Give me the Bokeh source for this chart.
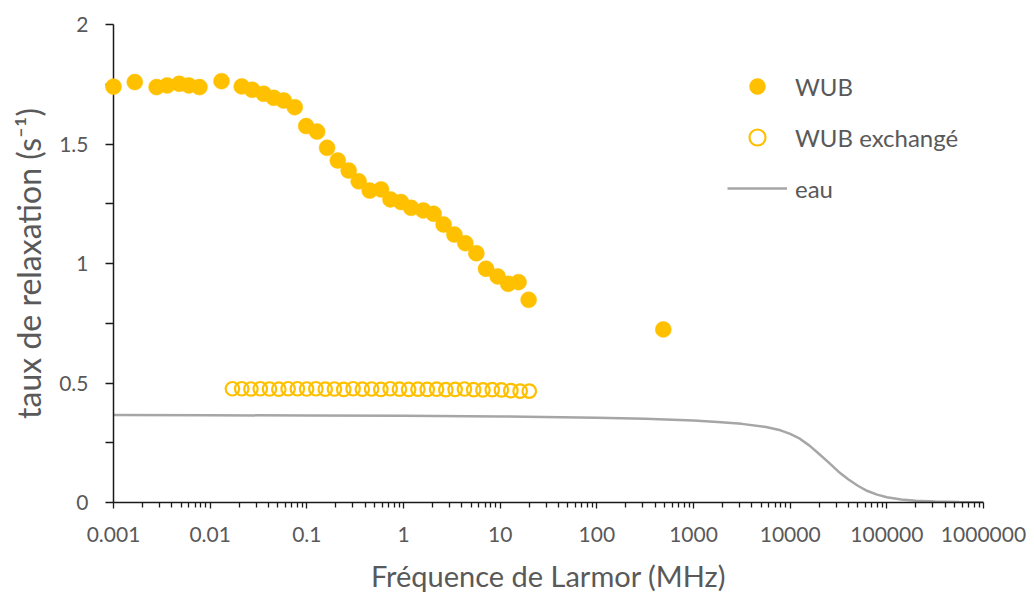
from bokeh.plotting import figure
from bokeh.models import (Range1d, FixedTicker, CustomJSTickFormatter, Legend, LegendItem)
from bokeh.embed import file_html
from bokeh.resources import INLINE

# ---- data ----
wub_x = [0.001, 0.00166, 0.00279, 0.00359, 0.00478, 0.00601, 0.00775, 0.0131,
         0.0212, 0.0272, 0.0358, 0.0455, 0.0577, 0.075, 0.0984, 0.1277, 0.162,
         0.209, 0.271, 0.344, 0.447, 0.586, 0.733, 0.944, 1.2, 1.60, 2.05, 2.6,
         3.36, 4.36, 5.67, 7.14, 9.42, 12.1, 15.5, 19.7, 487]
wub_y = [1.740, 1.759, 1.738, 1.745, 1.752, 1.745, 1.738, 1.763,
         1.741, 1.727, 1.710, 1.693, 1.682, 1.654, 1.575, 1.552, 1.484,
         1.431, 1.389, 1.344, 1.305, 1.310, 1.268, 1.257, 1.233, 1.222, 1.208, 1.163,
         1.121, 1.085, 1.043, 0.978, 0.946, 0.915, 0.922, 0.848, 0.724]

exch_x = [0.0170, 0.0212, 0.0264, 0.0330, 0.0411, 0.0513, 0.0640, 0.0798, 0.0995,
          0.124, 0.155, 0.193, 0.241, 0.301, 0.375, 0.468, 0.583, 0.728, 0.908,
          1.13, 1.41, 1.76, 2.20, 2.74, 3.42, 4.27, 5.32, 6.64, 8.28, 10.3, 12.9,
          16.1, 20.0]
exch_y = [0.476, 0.476, 0.475, 0.476, 0.475, 0.474, 0.476, 0.476, 0.475,
          0.476, 0.474, 0.475, 0.473, 0.476, 0.474, 0.475, 0.473, 0.476, 0.474,
          0.473, 0.474, 0.473, 0.474, 0.472, 0.473, 0.475, 0.472, 0.471, 0.472,
          0.471, 0.468, 0.466, 0.466]

eau_x = [0.001, 0.01, 0.1, 1, 10, 100, 316, 1000, 1778, 3162, 5623, 7943,
         10000, 12590, 15850, 19950, 25120, 31620, 39810, 50120, 63100, 79430,
         100000, 141000, 199500, 316200, 562300, 1000000]
eau_y = [0.366, 0.365, 0.364, 0.363, 0.360, 0.355, 0.350, 0.343, 0.337, 0.329,
         0.316, 0.302, 0.287, 0.267, 0.238, 0.203, 0.167, 0.129, 0.097, 0.070,
         0.048, 0.033, 0.022, 0.013, 0.007, 0.004, 0.002, 0.001]

x_ticks = [0.001, 0.01, 0.1, 1, 10, 100, 1000, 10000, 100000, 1000000]
x_labels = ["0.001", "0.01", "0.1", "1", "10", "100", "1000", "10000", "100000", "1000000"]
y_ticks = [0, 0.5, 1, 1.5, 2]
y_labels = ["0", "0.5", "1", "1.5", "2"]
y_minor = [0.25, 0.75, 1.25, 1.75]

gold = "#FFC000"
grey_line = "#A6A6A6"
text_col = "#595959"
font = "Lato"

p = figure(width=1034, height=598, x_axis_type="log",
           x_range=Range1d(0.001, 1000000), y_range=Range1d(0, 2),
           output_backend="svg", toolbar_location=None,
           min_border_left=113, min_border_right=51,
           min_border_top=24, min_border_bottom=96)
p.background_fill_color = None
p.border_fill_color = "white"
p.outline_line_color = None
p.grid.visible = False

r_eau = p.line(eau_x, eau_y, line_color=grey_line, line_width=2.5)
r_exch = p.scatter(exch_x, exch_y, size=13.5, marker="circle", fill_color=None,
                   line_color=gold, line_width=2.2)
r_wub = p.scatter(wub_x, wub_y, size=16, marker="circle", fill_color=gold,
                  line_color=gold, line_width=0.5)
r_wub.level = "overlay"

fmt_code = """
let best = 0, bd = 1e99;
for (let i = 0; i < tk.length; i++) {
    const d = LOGMODE ? Math.abs(Math.log10(tk[i]) - Math.log10(tick)) : Math.abs(tk[i] - tick);
    if (d < bd) { bd = d; best = i; }
}
return lb[best];
"""

minor = [m * t for t in x_ticks[:-1] for m in range(2, 10)]
p.xaxis.ticker = FixedTicker(ticks=x_ticks, minor_ticks=minor)
p.xaxis.formatter = CustomJSTickFormatter(
    args=dict(tk=x_ticks, lb=x_labels), code=fmt_code.replace("LOGMODE", "true"))
p.yaxis.ticker = FixedTicker(ticks=y_ticks, minor_ticks=y_minor)
p.yaxis.formatter = CustomJSTickFormatter(
    args=dict(tk=y_ticks, lb=y_labels), code=fmt_code.replace("LOGMODE", "false"))

for ax in (p.xaxis[0], p.yaxis[0]):
    ax.axis_line_color = "#1a1a1a"
    ax.axis_line_width = 1.5
    ax.major_tick_line_color = "#1a1a1a"
    ax.minor_tick_line_color = "#1a1a1a"
    ax.major_tick_line_width = 1.3
    ax.minor_tick_line_width = 1.3
    ax.major_tick_in = 0
    ax.minor_tick_in = 0
    ax.major_label_text_font = font
    ax.major_label_text_font_size = "21px"
    ax.major_label_text_color = text_col
    ax.axis_label_text_font = font
    ax.axis_label_text_font_style = "normal"
    ax.axis_label_text_color = text_col

p.xaxis.major_tick_out = 6
p.xaxis.minor_tick_out = 5
p.xaxis.major_label_standoff = 18
p.xaxis.axis_label = "Fréquence de Larmor (MHz)"
p.xaxis.axis_label_text_font_size = "29px"
p.xaxis.axis_label_standoff = 13

p.yaxis.major_tick_out = 8
p.yaxis.minor_tick_out = 8
p.yaxis.major_label_standoff = 17
p.yaxis.axis_label = "taux de relaxation (s⁻¹)"
p.yaxis.axis_label_text_font_size = "32px"
p.yaxis.axis_label_standoff = 8

legend = Legend(items=[LegendItem(label="WUB", renderers=[r_wub]),
                       LegendItem(label="WUB exchangé", renderers=[r_exch]),
                       LegendItem(label="eau", renderers=[r_eau])],
                location=(614, 294))
legend.glyph_width = 60
legend.glyph_height = 40
legend.spacing = 11
legend.padding = 0
legend.margin = 0
legend.label_standoff = 8
legend.border_line_color = None
legend.background_fill_color = None
legend.label_text_font = font
legend.label_text_font_size = "24px"
legend.label_text_color = text_col
p.add_layout(legend, "center")

open("out.html", "w").write(file_html(p, INLINE))
